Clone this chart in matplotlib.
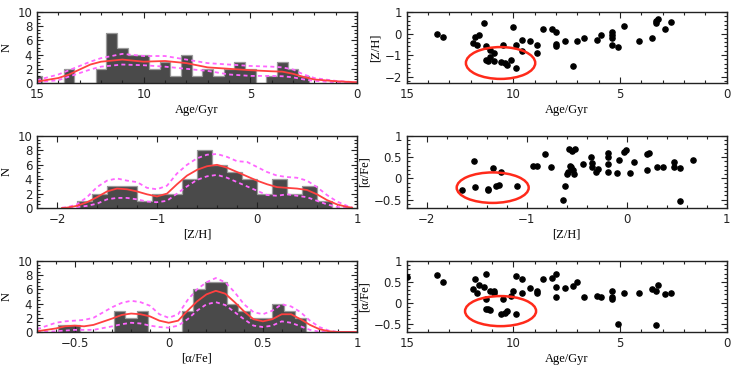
import numpy as np
import matplotlib
matplotlib.use("Agg")
import matplotlib.pyplot as plt
from matplotlib.patches import Ellipse
from matplotlib.ticker import MultipleLocator, FuncFormatter

# ---------------- data ----------------
# Age histogram (bins of 0.5 Gyr, edges at x.25 / x.75)
age_edges = [15.25, 14.75, 14.25, 13.75, 13.25, 12.75, 12.25, 11.75, 11.25, 10.75, 10.25,
             9.75, 9.25, 8.75, 8.25, 7.75, 7.25, 6.75, 6.25, 5.75, 5.25, 4.75, 4.25,
             3.75, 3.25, 2.75, 2.25]
age_counts = [1, 0, 0, 2, 0, 0, 2, 7, 5, 4, 4, 2, 3, 1, 4, 1, 2, 1, 2, 3, 2, 0, 1, 3, 2, 1]

age_curve_x = [15, 14, 13.5, 13, 12.5, 12, 11, 10, 9, 8, 7, 6, 5, 4, 3.5, 3, 2.5, 2, 1, 0]
age_curve_mid = [0.2, 0.7, 1.2, 1.9, 2.6, 3.0, 3.3, 3.0, 3.1, 2.8, 2.2, 2.0, 1.8, 1.65, 1.6, 1.3, 0.85, 0.5, 0.25, 0.1]
age_curve_hi = [0.4, 1.2, 1.8, 2.4, 3.0, 3.5, 4.1, 3.8, 3.8, 3.3, 2.8, 2.6, 2.4, 2.3, 2.2, 1.9, 1.2, 0.7, 0.3, 0.1]
age_curve_lo = [0.1, 0.4, 0.9, 1.4, 1.9, 2.3, 2.6, 2.5, 2.3, 2.0, 1.7, 1.2, 1.0, 1.0, 0.95, 0.8, 0.5, 0.3, 0.1, 0.05]

# [Z/H] histogram (bins of 0.15 dex)
zh_edges = [-1.8, -1.65, -1.5, -1.35, -1.2, -1.05, -0.9, -0.75, -0.6, -0.45, -0.3,
            -0.15, 0.0, 0.15, 0.3, 0.45, 0.6, 0.75]
zh_counts = [1, 2, 3, 3, 1, 2, 2, 4, 8, 6, 5, 4, 2, 4, 2, 3, 1]

zh_curve_x = [-1.95, -1.9, -1.8, -1.7, -1.6, -1.5, -1.4, -1.3, -1.2, -1.1, -1.0, -0.9, -0.8, -0.7,
              -0.6, -0.5, -0.4, -0.3, -0.2, -0.1, 0.0, 0.1, 0.2, 0.3, 0.4, 0.5, 0.6, 0.7, 0.8, 0.9, 0.95]
zh_curve_mid = [0.0, 0.05, 0.3, 0.8, 1.5, 2.3, 2.7, 2.6, 2.3, 1.9, 1.6, 2.0, 3.3, 4.5,
                5.3, 5.8, 6.0, 5.6, 5.0, 4.4, 3.8, 3.3, 2.9, 2.8, 2.7, 2.5, 1.9, 1.1, 0.5, 0.15, 0.05]
zh_curve_hi = [0.05, 0.1, 0.5, 1.5, 2.9, 3.8, 4.1, 3.8, 3.6, 2.8, 2.6, 3.1, 4.8, 6.0,
               6.9, 7.4, 7.5, 7.1, 6.5, 6.4, 5.7, 5.0, 4.5, 4.3, 4.2, 3.8, 2.9, 1.8, 0.9, 0.3, 0.1]
zh_curve_lo = [0.0, 0.0, 0.1, 0.3, 0.6, 1.2, 1.4, 1.4, 1.2, 0.9, 0.8, 1.0, 2.0, 3.0,
               3.9, 4.4, 4.6, 4.2, 3.6, 3.0, 2.4, 1.8, 1.7, 1.9, 1.7, 1.5, 1.0, 0.5, 0.15, 0.05, 0.0]

# [alpha/Fe] histogram (bins of 0.06 dex)
af_edges = [-0.59, -0.53, -0.47, -0.41, -0.35, -0.29, -0.23, -0.17, -0.11, -0.05, 0.01,
            0.07, 0.13, 0.19, 0.25, 0.31, 0.37, 0.43, 0.49, 0.55, 0.61, 0.67, 0.73]
af_counts = [1, 1, 0, 0, 0, 3, 2, 3, 0, 0, 0, 3, 6, 7, 7, 4, 3, 2, 2, 4, 3, 2]

af_curve_x = [-0.7, -0.6, -0.55, -0.5, -0.45, -0.4, -0.3, -0.25, -0.2, -0.15, -0.1, -0.05, 0.0,
              0.05, 0.1, 0.15, 0.2, 0.25, 0.3, 0.35, 0.4, 0.45, 0.5, 0.55, 0.6, 0.65, 0.7,
              0.75, 0.8, 0.85, 0.9, 1.0]
af_curve_mid = [0.1, 0.5, 0.8, 0.9, 0.8, 1.0, 1.9, 2.4, 2.6, 2.5, 2.2, 1.6, 1.3,
                1.6, 3.0, 4.3, 5.3, 5.8, 5.4, 4.2, 2.9, 1.8, 1.5, 1.8, 2.5, 2.5, 1.8,
                1.0, 0.4, 0.1, 0.0, 0.0]
af_curve_hi = [0.4, 1.3, 1.5, 1.6, 1.7, 2.0, 3.5, 4.1, 4.4, 4.2, 3.7, 2.5, 2.0,
               2.5, 4.5, 6.0, 7.0, 7.6, 7.0, 5.6, 3.9, 2.8, 2.5, 3.0, 3.9, 3.6, 2.8,
               1.6, 0.7, 0.2, 0.0, 0.0]
af_curve_lo = [0.0, 0.1, 0.2, 0.3, 0.3, 0.3, 0.8, 1.1, 1.3, 1.2, 0.9, 0.7, 0.6,
               0.9, 1.8, 3.0, 3.9, 4.2, 3.8, 2.8, 1.8, 0.9, 0.7, 0.9, 1.5, 1.3, 0.8,
               0.3, 0.05, 0.0, 0.0, 0.0]

# Scatter: age vs [Z/H]
sc1_age = [13.6, 13.3, 11.4, 11.9, 11.8, 11.6, 11.7, 11.3, 11.1, 10.9, 11.1, 11.3, 11.2, 10.9,
           10.6, 10.4, 10.3, 10.1, 9.9, 10.5, 10.0, 9.9, 9.6, 9.6, 9.2, 8.9, 8.9, 8.6, 8.2,
           8.0, 8.0, 8.0, 7.6, 7.2, 7.0, 6.7, 6.1, 5.9, 5.4, 5.4, 5.4, 5.4, 5.1, 4.8, 4.1,
           3.5, 3.3, 3.3, 3.2, 2.9, 2.6]
sc1_zh = [0.0, -0.16, 0.47, -0.42, -0.16, -0.05, -0.52, -0.58, -0.78, -0.9, -1.1, -1.25, -1.3, -1.3,
          -1.33, -1.38, -1.48, -1.25, -1.6, -0.52, 0.28, -0.52, -0.28, -0.81, -0.34, -0.52, -0.89,
          0.19, 0.2, 0.05, -0.47, -0.58, -0.34, -1.5, -0.34, -0.19, -0.31, -0.08, 0.05, -0.08,
          -0.2, -0.55, -0.62, 0.34, -0.34, -0.2, 0.47, 0.58, 0.66, 0.19, 0.52]

# Scatter: [Z/H] vs [alpha/Fe]
sc2_zh = [-1.65, -1.53, -1.52, -1.39, -1.39, -1.34, -1.31, -1.28, -1.26, -1.10, -0.94, -0.90,
          -0.82, -0.76, -0.64, -0.62, -0.60, -0.59, -0.58, -0.57, -0.56, -0.55, -0.54, -0.53,
          -0.52, -0.44, -0.36, -0.35, -0.35, -0.31, -0.29, -0.19, -0.19, -0.19, -0.19, -0.10,
          -0.08, -0.03, -0.01, 0.03, 0.07, 0.20, 0.22, 0.20, 0.30, 0.36, 0.47, 0.47, 0.53, 0.53, 0.66]
sc2_af = [-0.28, 0.42, -0.2, -0.26, -0.28, 0.24, -0.17, -0.16, 0.16, -0.18, 0.28, 0.28,
          0.58, 0.26, -0.5, -0.18, 0.1, 0.14, 0.7, 0.3, 0.26, 0.64, 0.2, 0.1,
          0.7, 0.34, 0.5, 0.36, 0.26, 0.16, 0.22, 0.6, 0.5, 0.34, 0.14, 0.12,
          0.44, 0.62, 0.66, 0.12, 0.38, 0.58, 0.6, 0.2, 0.26, 0.26, 0.38, 0.26, 0.24, -0.54, 0.44]

# Scatter: age vs [alpha/Fe]
sc3_age = [15.0, 13.6, 13.3, 11.9, 11.8, 11.7, 11.6, 11.4, 11.3, 11.3, 11.3, 11.2, 11.1, 11.1,
           10.9, 10.9, 10.6, 10.5, 10.4, 10.3, 10.1, 10.0, 9.9, 9.9, 9.6, 9.6, 9.2, 8.9, 8.9,
           8.6, 8.2, 8.0, 8.0, 8.0, 7.6, 7.2, 7.0, 6.7, 6.1, 5.9, 5.4, 5.4, 5.4, 5.1, 4.8,
           4.1, 3.5, 3.3, 3.3, 3.2, 2.9, 2.6]
sc3_af = [0.61, 0.66, 0.49, 0.33, 0.58, 0.23, 0.43, 0.37, 0.69, 0.09, -0.16, -0.16, -0.18, 0.27,
          0.29, 0.24, -0.28, 0.09, -0.24, -0.2, 0.17, 0.27, 0.65, -0.28, 0.57, 0.24, 0.35, 0.29,
          0.24, 0.57, 0.59, 0.69, 0.37, 0.13, 0.35, 0.39, 0.49, 0.13, 0.16, 0.13, 0.28, 0.15,
          0.09, -0.51, 0.24, 0.24, 0.33, 0.27, -0.54, 0.43, 0.21, 0.23]

# Ellipses: (center x, center y, width, height)
ell1 = (10.6, -1.37, 3.25, 1.48)
ell2 = (-1.34, -0.22, 0.72, 0.72)
ell3 = (10.6, -0.2, 3.33, 0.72)

# ---------------- plotting ----------------
plt.rcParams['font.family'] = ['DejaVu Sans']
fig = plt.figure(figsize=(7.36, 3.67), dpi=100)

lx, rx, w = 37 / 736, 406.7 / 736, 320 / 736
rows = [(1 - 83 / 367, 71 / 367), (1 - 208 / 367, 72 / 367), (1 - 332 / 367, 71 / 367)]

label_font = dict(family='Liberation Serif', size=9)
HIST_FC = '#4a4a4a'
HIST_EC = '#9a9a9a'
RED = '#ff4040'
MAG = '#ff66ff'

fmt = FuncFormatter(lambda v, p: ('%g' % round(v, 6)).replace('-', '\u2212'))


def style(ax, xmaj, xmin, ymaj, ymin):
    ax.xaxis.set_major_locator(MultipleLocator(xmaj))
    ax.xaxis.set_minor_locator(MultipleLocator(xmin))
    ax.yaxis.set_major_locator(MultipleLocator(ymaj))
    ax.yaxis.set_minor_locator(MultipleLocator(ymin))
    ax.xaxis.set_major_formatter(fmt)
    ax.yaxis.set_major_formatter(fmt)
    ax.tick_params(which='both', direction='in', top=True, right=True, labelsize=8.5,
                   colors='#222222', width=0.8)
    ax.tick_params(which='major', length=4.5)
    ax.tick_params(which='minor', length=2.5)
    for s in ax.spines.values():
        s.set_linewidth(1.0)
        s.set_color('#222222')


def hist_panel(ax, edges, counts, cx, cmid, chi, clo, xlim, xlabel, xmaj, xmin):
    ax.stairs(counts, edges, fill=True, facecolor=HIST_FC, edgecolor=HIST_FC, linewidth=0)
    ax.stairs(counts, edges, fill=False, edgecolor=HIST_EC, linewidth=0.9, baseline=0)
    ax.plot(cx, chi, color=MAG, lw=1.3, ls=(0, (2.2, 1.8)))
    ax.plot(cx, clo, color=MAG, lw=1.3, ls=(0, (2.2, 1.8)))
    ax.plot(cx, cmid, color=RED, lw=1.3)
    ax.set_xlim(*xlim)
    ax.set_ylim(0, 10)
    ax.set_xlabel(xlabel, fontdict=label_font, labelpad=2)
    ax.set_ylabel('N', fontdict=label_font, labelpad=3)
    style(ax, xmaj, xmin, 2, 0.5)


def scatter_panel(ax, x, y, ell, xlim, ylim, xlabel, ylabel, xmaj, xmin, ymaj, ymin):
    ax.scatter(x, y, s=14, color='black', zorder=3, clip_on=True)
    ax.add_patch(Ellipse((ell[0], ell[1]), ell[2], ell[3], fill=False, edgecolor='#ff2a1a',
                         linewidth=1.8, zorder=4))
    ax.set_xlim(*xlim)
    ax.set_ylim(*ylim)
    ax.set_xlabel(xlabel, fontdict=label_font, labelpad=2)
    ax.set_ylabel(ylabel, fontdict=label_font, labelpad=2)
    style(ax, xmaj, xmin, ymaj, ymin)


ax1 = fig.add_axes([lx, rows[0][0], w, rows[0][1]])
hist_panel(ax1, age_edges, age_counts, age_curve_x, age_curve_mid, age_curve_hi, age_curve_lo,
           (15, 0), 'Age/Gyr', 5, 1)
ax2 = fig.add_axes([lx, rows[1][0], w, rows[1][1]])
hist_panel(ax2, zh_edges, zh_counts, zh_curve_x, zh_curve_mid, zh_curve_hi, zh_curve_lo,
           (-2.2, 1), '[Z/H]', 1, 0.2)
ax3 = fig.add_axes([lx, rows[2][0], w, rows[2][1]])
hist_panel(ax3, af_edges, af_counts, af_curve_x, af_curve_mid, af_curve_hi, af_curve_lo,
           (-0.7, 1), '[\u03b1/Fe]', 0.5, 0.1)

ax4 = fig.add_axes([rx, rows[0][0], w, rows[0][1]])
scatter_panel(ax4, sc1_age, sc1_zh, ell1, (15, 0), (-2.3, 1), 'Age/Gyr', '[Z/H]', 5, 1, 1, 0.2)
ax5 = fig.add_axes([rx, rows[1][0], w, rows[1][1]])
scatter_panel(ax5, sc2_zh, sc2_af, ell2, (-2.2, 1), (-0.7, 1), '[Z/H]', '[\u03b1/Fe]', 1, 0.2, 0.5, 0.1)
ax6 = fig.add_axes([rx, rows[2][0], w, rows[2][1]])
scatter_panel(ax6, sc3_age, sc3_af, ell3, (15, 0), (-0.7, 1), 'Age/Gyr', '[\u03b1/Fe]', 5, 1, 0.5, 0.1)

fig.savefig('out.png', dpi=100)
